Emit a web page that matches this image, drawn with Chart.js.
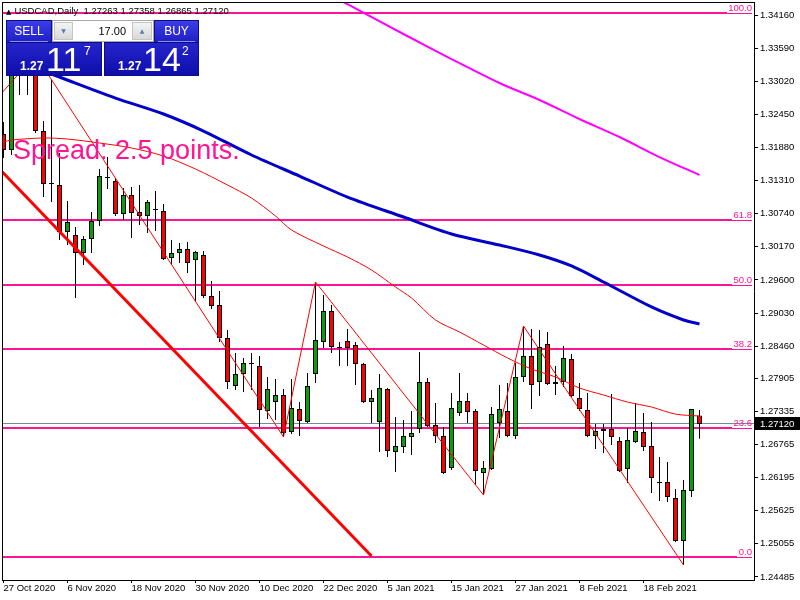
<!DOCTYPE html>
<html>
<head>
<meta charset="utf-8">
<title>USDCAD, Daily</title>
<script src="https://cdn.jsdelivr.net/npm/chart.js@4.4.0/dist/chart.umd.min.js"></script>
<style>
    body { margin: 0; background: #fff; overflow: hidden; }
    #wrap { position: relative; width: 800px; height: 600px; font-family: "Liberation Sans", Arial, sans-serif; }
    #chart { position: absolute; left: 0; top: 0; }
    .abs { position: absolute; white-space: pre; }
    .hdr { left: 6px; top: 6px; font-size: 9.5px; line-height: 9.5px; color: #000; }
    .hdr .tri { font-size: 7px; font-family: "DejaVu Sans"; margin-right: 3px; }
    .spread { left: 13px; top: 137px; font-size: 27px; line-height: 27px; color: #ff1493; }
    .btn { box-sizing: border-box; border: 1px solid #0c0c86; color: #fff; }
    .top { background: linear-gradient(#3d3de8, #1f1fc6); }
    .bot { background: linear-gradient(#2424cc, #0e0eaa); }
    .uline { height: 1px; background: #8f8fe0; }
    .vol { box-sizing: border-box; border: 1px solid #a8a8a8; background: #fff; }
    .arr { box-sizing: border-box; border: 1px solid #c4c4c4; background: linear-gradient(#f4f4f4, #d8d8d8);
           color: #5b79b2; font-size: 6px; line-height: 16px; text-align: center; font-family: "DejaVu Sans"; }
    .lbl { font-size: 12px; line-height: 12px; text-align: center; }
    .small { font-size: 12px; line-height: 12px; font-weight: bold; color: #fff; }
    .big { font-size: 34px; line-height: 34px; color: #fff; }
    .sup { font-size: 12px; line-height: 12px; color: #fff; }
</style>
</head>
<body>
<div id="wrap">
    <canvas id="chart" width="800" height="600"></canvas>

    <div class="abs hdr"><span class="tri">▲</span>USDCAD,Daily  1.27263 1.27358 1.26865 1.27120</div>
    <div class="abs spread">Spread: 2.5 points.</div>

    <!-- one click trading panel -->
    <div class="abs btn top" style="left:6px;top:20px;width:46px;height:23px;"></div>
    <div class="abs btn bot" style="left:6px;top:42px;width:96px;height:34px;"></div>
    <div class="abs lbl" style="left:6px;top:25px;width:46px;color:#fff;">SELL</div>
    <div class="abs uline" style="left:10px;top:41px;width:38px;"></div>

    <div class="abs vol" style="left:52px;top:20px;width:102px;height:22px;"></div>
    <div class="abs arr" style="left:54px;top:22px;width:19px;height:18px;">▼</div>
    <div class="abs lbl" style="left:73px;top:25px;width:53px;text-align:right;font-size:11px;color:#000;">17.00</div>
    <div class="abs arr" style="left:132px;top:22px;width:20px;height:18px;">▲</div>

    <div class="abs btn top" style="left:154px;top:20px;width:45px;height:23px;"></div>
    <div class="abs btn bot" style="left:104px;top:42px;width:95px;height:34px;"></div>
    <div class="abs lbl" style="left:154px;top:25px;width:45px;color:#fff;">BUY</div>
    <div class="abs uline" style="left:158px;top:41px;width:37px;"></div>

    <div class="abs small" style="left:20px;top:60px;">1.27</div>
    <div class="abs big" style="left:46px;top:42px;">11</div>
    <div class="abs sup" style="left:84px;top:45px;">7</div>
    <div class="abs small" style="left:118px;top:60px;">1.27</div>
    <div class="abs big" style="left:143px;top:42px;">14</div>
    <div class="abs sup" style="left:182px;top:45px;">2</div>
</div>

<script>
// daily candles, 27 Oct 2020 .. 1 Mar 2021
const candleOpen = [
    1.32113, 1.31837, 1.33180, 1.33318, 1.33249, 1.32164, 1.31252, 1.31234, 1.30425, 1.30373,
    1.30063, 1.30304, 1.30614, 1.31355, 1.31303, 1.30735, 1.31062, 1.30769, 1.30701, 1.30804,
    1.30787, 1.29977, 1.30063, 1.30132, 1.29943, 1.30029, 1.29323, 1.29168, 1.28600, 1.27773,
    1.27980, 1.28152, 1.28118, 1.27342, 1.27497, 1.27618, 1.26981, 1.27377, 1.27153, 1.27980,
    1.28531, 1.29066, 1.28428, 1.28548, 1.28479, 1.28152, 1.27497, 1.27153, 1.27722, 1.26636,
    1.26723, 1.26895, 1.27033, 1.27842, 1.27102, 1.26912, 1.26361, 1.27308, 1.27514, 1.27342,
    1.26275, 1.26344, 1.27136, 1.27342, 1.26912, 1.27928, 1.28290, 1.27842, 1.28496, 1.27808,
    1.27842, 1.28238, 1.27566, 1.27360, 1.26912, 1.26998, 1.27033, 1.26826, 1.26344, 1.26809,
    1.26981, 1.26740, 1.26103, 1.26120, 1.25844, 1.25104, 1.25965, 1.27263
];
const candleHigh = [
    1.32319, 1.33387, 1.33387, 1.33352, 1.33473, 1.32336, 1.33042, 1.31785, 1.30958, 1.30511,
    1.30356, 1.30769, 1.31510, 1.31716, 1.31355, 1.31183, 1.31200, 1.31234, 1.30976, 1.31131,
    1.30907, 1.30287, 1.30235, 1.30253, 1.30098, 1.30098, 1.29581, 1.29409, 1.28737, 1.28341,
    1.28256, 1.28341, 1.28290, 1.27928, 1.27894, 1.27722, 1.27894, 1.27497, 1.27997, 1.29564,
    1.29341, 1.29168, 1.28531, 1.28755, 1.28531, 1.28169, 1.27704, 1.27980, 1.27739, 1.27239,
    1.27188, 1.27342, 1.28359, 1.27911, 1.27480, 1.27067, 1.27653, 1.27997, 1.27653, 1.27377,
    1.26482, 1.27411, 1.27790, 1.27825, 1.28169, 1.28806, 1.28755, 1.28737, 1.28703, 1.28118,
    1.28462, 1.28324, 1.27825, 1.27653, 1.27119, 1.27119, 1.27635, 1.26895, 1.27050, 1.27480,
    1.27308, 1.27153, 1.26550, 1.26464, 1.25999, 1.26154, 1.27377, 1.27358
];
const candleLow = [
    1.31699, 1.31751, 1.32784, 1.32784, 1.32130, 1.31027, 1.30942, 1.30287, 1.30201, 1.29289,
    1.29857, 1.30063, 1.30528, 1.31165, 1.30701, 1.30632, 1.30322, 1.30546, 1.30407, 1.30442,
    1.29943, 1.29857, 1.29891, 1.29719, 1.29220, 1.29289, 1.29100, 1.28531, 1.27722, 1.27704,
    1.27670, 1.27704, 1.27067, 1.27205, 1.27188, 1.26895, 1.26947, 1.26912, 1.27136, 1.27825,
    1.28428, 1.28341, 1.28118, 1.28118, 1.27790, 1.27480, 1.27136, 1.26636, 1.26550, 1.26292,
    1.26619, 1.26585, 1.26964, 1.27067, 1.26791, 1.26257, 1.26326, 1.27256, 1.27136, 1.26068,
    1.25896, 1.26326, 1.26878, 1.26895, 1.26861, 1.27842, 1.27377, 1.27601, 1.27790, 1.27618,
    1.27756, 1.27584, 1.27342, 1.26895, 1.26688, 1.26619, 1.26757, 1.26292, 1.26103, 1.26791,
    1.26654, 1.25930, 1.25792, 1.25776, 1.25088, 1.24691, 1.25861, 1.26865
];
const candleClose = [
    1.31837, 1.33249, 1.33318, 1.33215, 1.32164, 1.31252, 1.31252, 1.30425, 1.30597, 1.30063,
    1.30304, 1.30614, 1.31389, 1.31355, 1.30735, 1.31062, 1.30752, 1.30701, 1.30942, 1.30804,
    1.29960, 1.30063, 1.30132, 1.29891, 1.30081, 1.29323, 1.29151, 1.28600, 1.27842, 1.27980,
    1.28169, 1.28152, 1.27360, 1.27722, 1.27618, 1.26964, 1.27394, 1.27170, 1.27773, 1.28565,
    1.29066, 1.28445, 1.28428, 1.28428, 1.28152, 1.27497, 1.27566, 1.27739, 1.26654, 1.26740,
    1.26912, 1.26964, 1.27842, 1.27084, 1.26912, 1.26275, 1.27394, 1.27514, 1.27325, 1.26309,
    1.26361, 1.27289, 1.27377, 1.26912, 1.27928, 1.28290, 1.27790, 1.28445, 1.27808, 1.27842,
    1.28256, 1.27601, 1.27377, 1.26912, 1.26998, 1.27033, 1.26895, 1.26309, 1.26843, 1.26998,
    1.26723, 1.26188, 1.26103, 1.25861, 1.25104, 1.25982, 1.27377, 1.27120
];

// time axis labels (every 8th bar)
const dateTickBars = [0, 8, 16, 24, 32, 40, 48, 56, 64, 72, 80];
const dateLabels = ['27 Oct 2020', '6 Nov 2020', '18 Nov 2020', '30 Nov 2020', '10 Dec 2020',
    '22 Dec 2020', '5 Jan 2021', '15 Jan 2021', '27 Jan 2021', '8 Feb 2021', '18 Feb 2021'];

// price axis labels
const priceTicks = [1.34160, 1.33590, 1.33020, 1.32450, 1.31880, 1.31310, 1.30740, 1.30170, 1.29600,
    1.29030, 1.28460, 1.27905, 1.27335, 1.26765, 1.26195, 1.25625, 1.25055, 1.24485];
const lastPrice = 1.27120;

// indicators (bar index, price)
const redMaBars = [0, 1, 5, 8, 12, 16, 20, 24, 28, 31, 34, 36, 40, 43, 46, 49, 51, 54, 57, 60, 63, 66, 69, 72, 75, 78, 81, 84, 87];
const redMaValues = [1.31975, 1.32009, 1.32044, 1.32026, 1.31958, 1.31872, 1.31734, 1.31510, 1.31234, 1.31010,
    1.30701, 1.30460, 1.30184, 1.29994, 1.29771, 1.29478, 1.29289, 1.28910, 1.28703, 1.28479,
    1.28256, 1.28066, 1.27928, 1.27739, 1.27618, 1.27497, 1.27411, 1.27289, 1.27256];

const blueMaBars = [6, 7, 14, 20, 25, 31, 37, 43, 50, 56, 62, 67, 71, 75, 81, 85, 87];
const blueMaValues = [1.33146, 1.33094, 1.32732, 1.32457, 1.32164, 1.31751, 1.31389, 1.31027, 1.30683,
    1.30391, 1.30201, 1.30029, 1.29840, 1.29564, 1.29134, 1.28910, 1.28841];

const magentaBars = [42, 43, 50, 56, 62, 67, 72, 77, 82, 87];
const magentaValues = [1.34420, 1.34351, 1.33835, 1.33404, 1.32991, 1.32698, 1.32371, 1.32061, 1.31716, 1.31406];

const zigzagBars = [-1, 4, 35, 39, 60, 65, 85];
const zigzagValues = [1.32698, 1.33473, 1.26895, 1.29564, 1.25896, 1.28806, 1.24691];

const trendBars = [-0.375, 46];
const trendValues = [1.31493, 1.24846];

// fibonacci retracement
const fibLevels = ['100.0', '61.8', '50.0', '38.2', '23.6', '0.0'];
const fibPrices = [1.34196, 1.30632, 1.29512, 1.28410, 1.27050, 1.24829];

const AXIS_FONT = { family: 'Liberation Sans', size: 9.5 };
const UP_COLOR = '#0a9e0a';
const DOWN_COLOR = '#ff0000';
const FIB_COLOR = '#ff1493';

function toPoints(bars, values) {
    return bars.map((b, i) => ({ x: b, y: values[i] }));
}

const overlayPlugin = {
    id: 'overlay',
    beforeDatasetsDraw(chart) {
        const { ctx, chartArea: a, scales: { y } } = chart;
        ctx.save();
        ctx.beginPath();
        ctx.rect(a.left, a.top, a.right - a.left, a.bottom - a.top);
        ctx.clip();

        // bid line
        const by = Math.round(y.getPixelForValue(lastPrice));
        ctx.fillStyle = '#778899';
        ctx.fillRect(a.left, by - 1, a.right - a.left, 1);

        // fibo levels with their labels
        ctx.font = '9.5px "Liberation Sans"';
        ctx.textAlign = 'right';
        ctx.textBaseline = 'alphabetic';
        fibLevels.forEach((lvl, k) => {
            const py = Math.round(y.getPixelForValue(fibPrices[k]));
            const w = Math.ceil(ctx.measureText(lvl).width);
            const end = a.right - 2;
            ctx.fillStyle = FIB_COLOR;
            ctx.fillRect(a.left, py - 1, end - w - 1 - a.left, 2);
            ctx.fillRect(end - w - 1, py, w + 1, 1);
            ctx.fillText(lvl, end, py - 2);
        });
        ctx.restore();
    },
    afterDraw(chart) {
        const { ctx, chartArea: a, scales: { y } } = chart;
        ctx.save();
        // chart frame
        ctx.fillStyle = '#000';
        ctx.fillRect(a.left, a.top, 1, a.bottom - a.top);
        ctx.fillRect(a.left, a.top, a.right - a.left, 1);

        // current price tag
        const py = Math.round(y.getPixelForValue(lastPrice));
        ctx.fillRect(a.right + 1, py - 7, 800 - a.right - 1, 13);
        ctx.fillStyle = '#fff';
        ctx.font = '9.5px "Liberation Sans"';
        ctx.textAlign = 'left';
        ctx.textBaseline = 'middle';
        ctx.fillText(lastPrice.toFixed(5), a.right + 6, py);
        ctx.restore();
    }
};

const ctx = document.getElementById('chart').getContext('2d');
new Chart(ctx, {
    type: 'bar',
    data: {
        datasets: [
            {
                type: 'line', label: 'MA magenta',
                data: toPoints(magentaBars, magentaValues),
                borderColor: '#ff00ff', borderWidth: 2, pointRadius: 0, tension: 0.3, clip: 0, order: 2
            },
            {
                type: 'line', label: 'MA blue',
                data: toPoints(blueMaBars, blueMaValues),
                borderColor: '#0000c8', borderWidth: 3, pointRadius: 0, tension: 0.3, clip: 0, order: 3
            },
            {
                type: 'line', label: 'ZigZag',
                data: toPoints(zigzagBars, zigzagValues),
                borderColor: '#ff0000', borderWidth: 1, pointRadius: 0, tension: 0, clip: 0, order: 4
            },
            {
                type: 'line', label: 'MA red',
                data: toPoints(redMaBars, redMaValues),
                borderColor: '#ff0000', borderWidth: 1, pointRadius: 0, tension: 0.3, clip: 0, order: 5
            },
            {
                type: 'line', label: 'Trendline',
                data: toPoints(trendBars, trendValues),
                borderColor: '#ff0000', borderWidth: 3, pointRadius: 0, clip: 0, order: 8
            },
            {
                label: 'Bodies',
                data: candleOpen.map((o, i) => ({ x: i, y: [o, candleClose[i]] })),
                backgroundColor: candleOpen.map((o, i) => candleClose[i] >= o ? UP_COLOR : DOWN_COLOR),
                borderColor: '#000', borderWidth: 1, borderSkipped: false,
                barThickness: 5, minBarLength: 1, grouped: false, inflateAmount: 0, order: 9
            },
            {
                label: 'Wicks',
                data: candleLow.map((l, i) => ({ x: i, y: [l, candleHigh[i]] })),
                backgroundColor: '#000', borderWidth: 0,
                barThickness: 1, grouped: false, inflateAmount: 0, order: 10
            }
        ]
    },
    options: {
        responsive: false,
        animation: false,
        layout: { padding: { left: 2, top: 2, right: 0, bottom: 0 } },
        plugins: { legend: { display: false }, tooltip: { enabled: false } },
        scales: {
            x: {
                type: 'linear', min: -0.1875, max: 93.8125, offset: false,
                afterFit(scale) {
                    scale.height = 20;
                    scale.paddingLeft = 0;
                    scale.paddingRight = 0;
                },
                afterBuildTicks(scale) { scale.ticks = dateTickBars.map(v => ({ value: v })); },
                ticks: {
                    autoSkip: false, maxRotation: 0, align: 'start', padding: 0, color: '#000', font: AXIS_FONT,
                    callback: (v, i) => dateLabels[i]
                },
                grid: { drawOnChartArea: false, offset: false, tickLength: 3, color: '#000' },
                border: { color: '#000', width: 1 }
            },
            y: {
                position: 'right', min: 1.24432, max: 1.34386,
                afterFit(scale) {
                    scale.width = 46;
                    scale.paddingTop = 0;
                    scale.paddingBottom = 0;
                },
                afterBuildTicks(scale) { scale.ticks = priceTicks.map(v => ({ value: v })); },
                ticks: { padding: 2, color: '#000', font: AXIS_FONT, callback: v => v.toFixed(5) },
                grid: { drawOnChartArea: false, tickLength: 4, color: '#000' },
                border: { color: '#000', width: 1 }
            }
        }
    },
    plugins: [overlayPlugin]
});
</script>
</body>
</html>
